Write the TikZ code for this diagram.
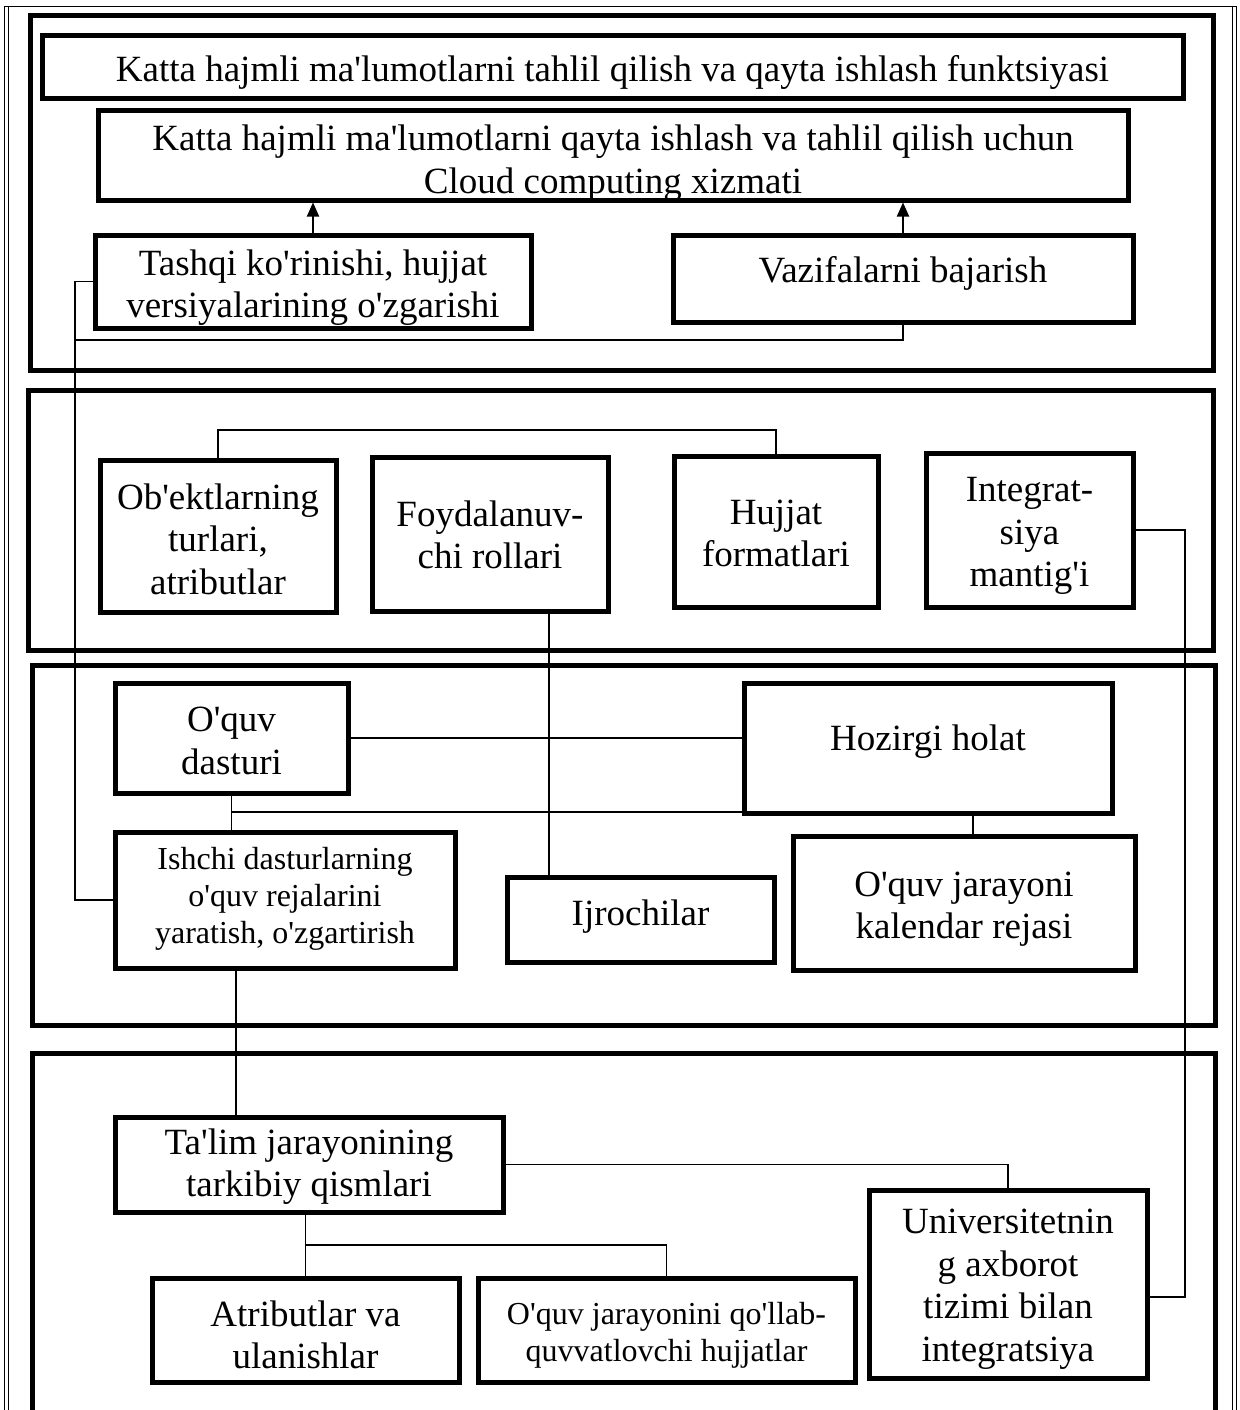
\documentclass[tikz,border=0pt]{standalone}
\usepackage{fontspec}
\setmainfont{Liberation Serif}[Ligatures=TeXOff]
\usetikzlibrary{fit,arrows.meta}
\newcommand\bigf{\fontsize{18.5pt}{21.25pt}\selectfont}
\newcommand\smallf{\fontsize{16pt}{18.5pt}\selectfont}
% name, x1, y1, x2, y2, box style, text style, text shift down (px), text
\newcommand\bxn[9]{\node[#6,minimum width={(#4-#2)*0.5pt},minimum height={(#5-#3)*0.5pt},label={[#7,yshift={-(#8)*0.5pt}]center:{#9}}] (#1) at ({(#2+#4)/2},{(#3+#5)/2}) {};}
\begin{document}
\begin{tikzpicture}[x=0.5pt,y=-0.5pt,
  bx/.style={draw,line width=2.5pt,inner sep=0pt},
  txt/.style={inner sep=0pt,align=center,font=\bigf},
  stxt/.style={txt,font=\smallf},
  sec/.style={draw,line width=2.5pt,inner sep=0pt},
  cn/.style={line width=0.8pt},
  ar/.style={line width=1pt,-{Triangle[length=7pt,width=6pt]}}]
\useasboundingbox (0,0) rectangle (1240,1410);
\clip (0,0) rectangle (1240,1410);
% outer thin double frame
\draw[line width=0.5pt] (4,1430) -- (4,6) -- (1236,6) -- (1236,1430);
\draw[line width=0.5pt] (8,1430) -- (8,6);
\draw[line width=0.5pt] (1232,1430) -- (1232,6);
% section frames
\node[sec,fit={(30,15)(1213,370)}] (s1) {};
\node[sec,fit={(28,390)(1213,650)}] (s2) {};
\node[sec,fit={(32,665)(1215,1025)}] (s3) {};
\node[sec,fit={(32,1053)(1215,1440)}] (s4) {};
% section 1
\bxn{A}{42}{35}{1183}{98}{bx}{txt}{6}{Katta hajmli ma'lumotlarni tahlil qilish va qayta ishlash funktsiyasi}
\bxn{B}{98}{110}{1128}{200}{bx}{txt}{0}{}
\begin{scope}
\clip (98,110) rectangle (1128,197.5);
\node[txt] (Bt) at (613,163) {Katta hajmli ma'lumotlarni qayta ishlash va tahlil qilish uchun\\Cloud computing xizmati};
\end{scope}
\bxn{C}{95}{235}{531}{328}{bx}{txt}{6}{Tashqi ko'rinishi, hujjat\\versiyalarining o'zgarishi}
\bxn{D}{673}{235}{1133}{322}{bx}{txt}{-5}{Vazifalarni bajarish}
% section 2
\bxn{Ob}{100}{460}{336}{612}{bx}{txt}{3}{Ob'ektlarning\\turlari,\\atributlar}
\bxn{Fo}{372}{457}{608}{611}{bx}{txt}{1}{Foydalanuv-\\chi rollari}
\bxn{Hu}{674}{456}{878}{607}{bx}{txt}{2}{Hujjat\\formatlari}
\bxn{In}{926}{453}{1133}{607}{bx}{txt}{6}{Integrat-\\siya\\mantig'i}
% section 3
\bxn{Oq}{115}{683}{348}{793}{bx}{txt}{3}{O'quv\\dasturi}
\bxn{Ho}{744}{683}{1112}{813}{bx}{txt}{-6}{Hozirgi holat}
\bxn{Is}{115}{832}{455}{968}{bx}{stxt}{-1}{Ishchi dasturlarning\\o'quv rejalarini\\yaratish, o'zgartirish}
\bxn{Ij}{507}{877}{774}{962}{bx}{txt}{-3}{Ijrochilar}
\bxn{Ka}{793}{836}{1135}{970}{bx}{txt}{6}{O'quv jarayoni\\kalendar rejasi}
% section 4
\bxn{Ta}{115}{1117}{503}{1212}{bx}{txt}{2}{Ta'lim jarayonining\\tarkibiy qismlari}
\bxn{At}{152}{1278}{459}{1382}{bx}{txt}{5}{Atributlar va\\ulanishlar}
\bxn{OJ}{478}{1278}{855}{1382}{bx}{stxt}{5}{O'quv jarayonini qo'llab-\\quvvatlovchi hujjatlar}
\bxn{Un}{869}{1190}{1147}{1378}{bx}{txt}{5}{Universitetnin\\g axborot\\tizimi bilan\\integratsiya}
% helper coordinates
\coordinate (cl) at (75,340);
\coordinate (v1) at (549,700);
\coordinate (v2) at (1185,1297);
\coordinate (v3) at (973,812);
\coordinate (v4) at (236,1000);
\coordinate (h1) at (0,430);
\coordinate (h2) at (0,1245);
% arrows
\draw[ar] (C.north) -- (C.north |- B.south);
\draw[ar] (D.north) -- (D.north |- B.south);
% connectors
\draw[cn] (C.west) -- (C.west -| cl) -- (cl |- Is.west) -- (Is.west);
\draw[cn] (D.south) -- (D.south |- cl) -- (cl);
\draw[cn] (Ob.north) -- (Ob.north |- h1) -| (Hu.north);
\draw[cn] (Fo.south -| v1) -- (Ij.north -| v1);
\draw[cn] (In.east) -| (v2) -- (Un.east |- v2);
\draw[cn] (Oq.east) -- (Ho.west |- Oq.east);
\draw[cn] (Oq.south) -- (Is.north -| Oq.south);
\draw[cn] (Oq.south |- v3) -- (v3) -- (Ka.north -| v3);
\draw[cn] (Is.south -| v4) -- (Ta.north -| v4);
\draw[cn] (Ta.east) -| (Un.north);
\draw[cn] (At.north |- Ta.south) -- (At.north);
\draw[cn] (At.north |- h2) -| (OJ.north);
\end{tikzpicture}
\end{document}
